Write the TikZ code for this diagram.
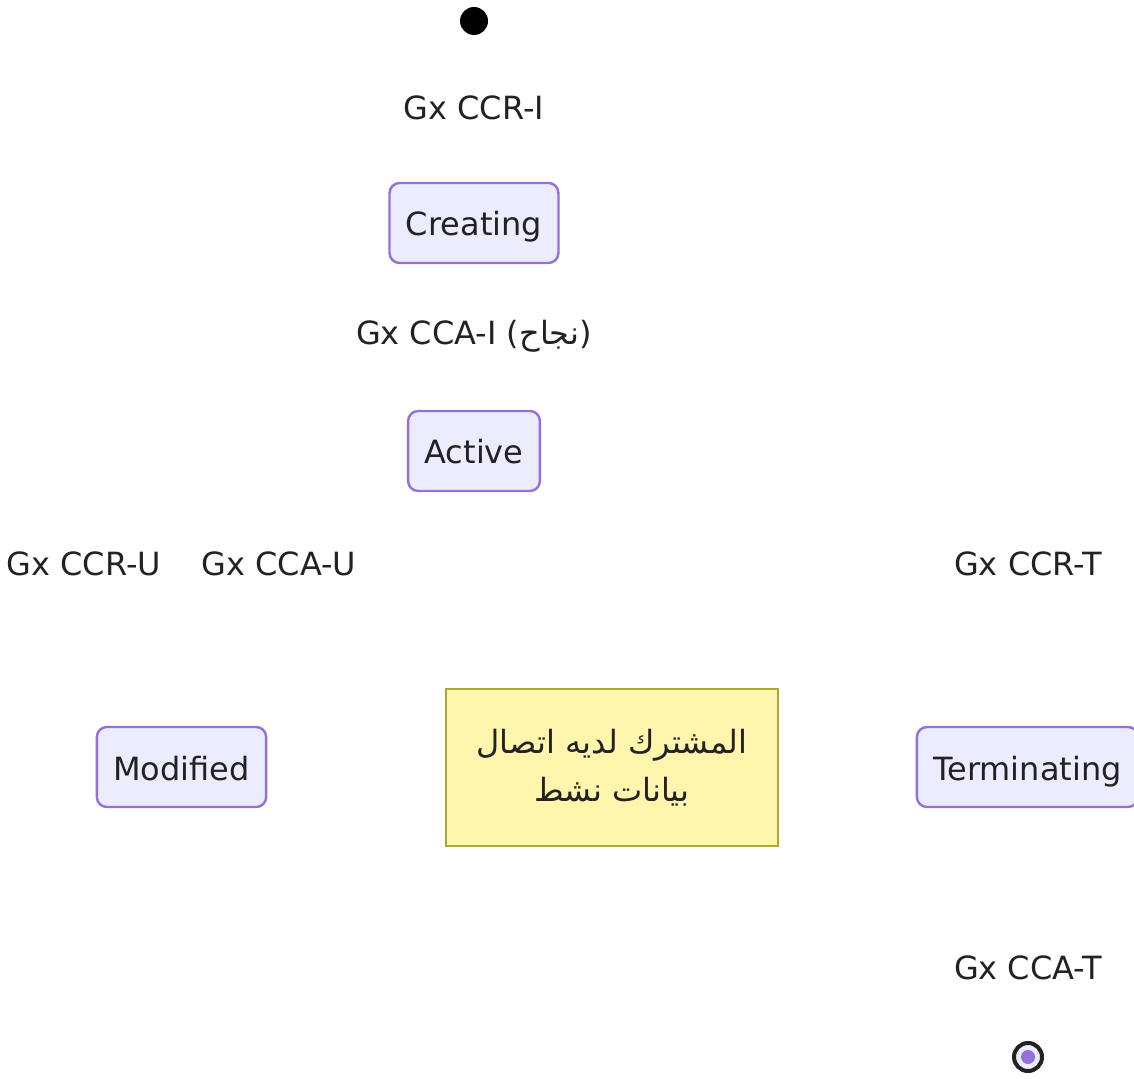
\documentclass[tikz,border=0pt]{standalone}
\usepackage{fontspec}
\setmainfont{DejaVu Sans}
\newfontfamily\arabicfont[Script=Arabic]{DejaVu Sans}
\TeXXeTstate=1
\usepackage{tikz}
\usetikzlibrary{positioning}
\definecolor{stfill}{HTML}{ECECFF}
\definecolor{stline}{HTML}{9370DB}
\definecolor{notefill}{HTML}{FFF5AD}
\definecolor{noteline}{HTML}{AAAA33}
\definecolor{txt}{HTML}{222222}
\tikzset{
  st/state/.style={draw=stline, fill=stfill, line width=1.2pt, rounded corners=5pt, minimum height=40pt, inner xsep=8.2pt, text height=13pt, text depth=0pt, text=txt, font=\fontsize{16}{19}\selectfont},
  st/label/.style={text=txt, inner sep=1pt, font=\fontsize{16}{19}\selectfont},
  st/note/.style={draw=noteline, fill=notefill, line width=1.2pt, minimum width=166pt, minimum height=78.5pt, align=center, text=txt, font=\fontsize{16}{24}\selectfont},
  st/start/.style={circle, fill=black, inner sep=0pt, minimum size=14pt},
  st/end/.style={circle, draw=txt, line width=2pt, fill=stfill, inner sep=0pt, minimum size=14pt}
}
\begin{document}
\begin{tikzpicture}[x=0.5pt, y=-0.5pt]
  \useasboundingbox (0,0) rectangle (1134,1079);
  % start and first states
  \node[st/start] (start) at (474,21) {};
  \node[st/label] (ccri) at (474,108) {Gx CCR-I};
  \node[st/state] (creating) at (474,223) {Creating};
  \node[st/label] (ccai) at (474,336) {Gx CCA-I ({\arabicfont\beginR نجاح\endR})};
  \node[st/state] (active) at (474,451) {Active};

  % transition labels of the active state
  \node[st/label] (ccru) at (84,564) {Gx CCR-U};
  \node[st/label] (ccau) at (279,564) {Gx CCA-U};
  \node[st/label] (ccrt) at (1028,564) {Gx CCR-T};

  % lower row
  \node[st/state] (modified) at (181.5,767) {Modified};
  \node[st/note] (activenote) at (612,767.5) {{\arabicfont\beginR المشترك لديه اتصال\endR}\\{\arabicfont\beginR بيانات نشط\endR}};
  \node[st/state] (terminating) at (1027.5,767) {Terminating};

  % end
  \node[st/label] (ccat) at (1028,968) {Gx CCA-T};
  \node[st/end] (stop) at (1028,1057) {};
  \node[circle, fill=stline, inner sep=0pt, minimum size=7pt] (stopdot) at (stop) {};
\end{tikzpicture}
\end{document}
